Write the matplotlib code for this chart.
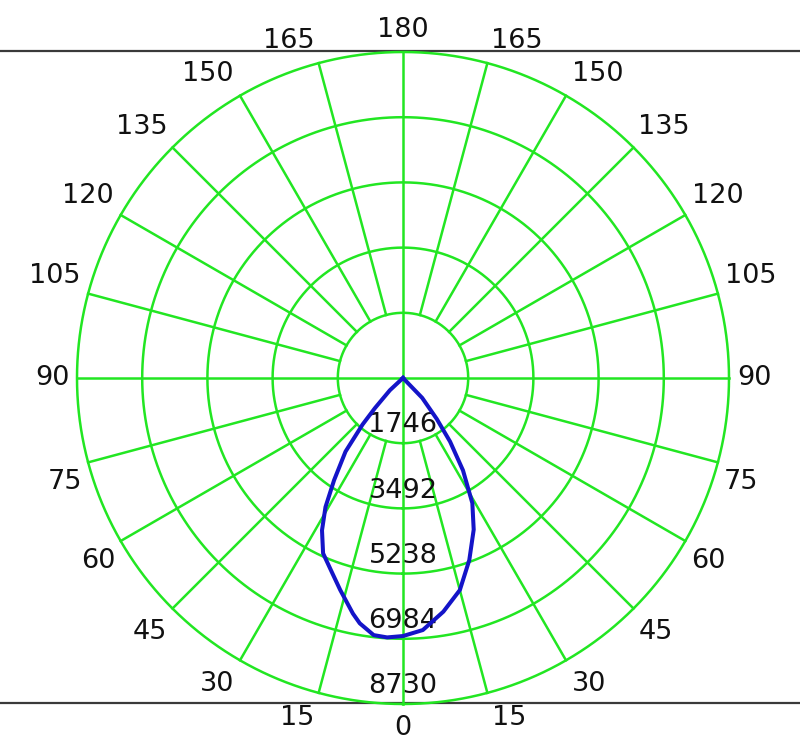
import numpy as np
import matplotlib
matplotlib.use("Agg")
import matplotlib.pyplot as plt
from matplotlib.lines import Line2D

plt.rcParams['font.family'] = ['DejaVu Sans']

# ---- data ----
ring_values = [1746, 3492, 5238, 6984, 8730]
angle_ticks = [0, 15, 30, 45, 60, 75, 90, 105, 120, 135, 150, 165, 180]
# luminous intensity curve (angle in degrees from nadir, + to the right)
curve_angles = [-50, -47, -43, -41, -38, -34, -31, -28, -24.5, -20, -16.5, -12,
                -10, -6.5, -3.5, 0, 4.5, 9.8, 15, 20, 25, 29, 33, 36.5, 39.5, 44, 50]
curve_values = [0, 480, 1100, 1650, 2500, 3300, 4030, 4620, 5160, 5550, 5920, 6450,
                6670, 6930, 6960, 6910, 6770, 6350, 5880, 5190, 4480, 3830, 2950,
                2120, 1420, 740, 0]

# ---- layout: label offsets from the pole in pixels (right side; mirrored on left) ----
label_offset_px = {0: (0, 350), 15: (106, 340), 30: (186, 306), 45: (253, 254),
                   60: (305, 183), 75: (338, 104), 90: (351, 0), 105: (348, -102),
                   120: (315, -182), 135: (261, -251), 150: (195, -304),
                   165: (114, -337), 180: (0, -348)}

GREEN = '#22e622'
BLUE = '#1414c8'
TXT = '#111111'
FS = 19.5
rmax = ring_values[-1]
PX2PT = 72.0 / 100.0

fig = plt.figure(figsize=(8, 7.48), dpi=100)
fig.patch.set_facecolor('white')
ax = fig.add_axes([77 / 800, 44 / 748, 652 / 800, 652 / 748], projection='polar')
ax.set_theta_zero_location('S')
ax.set_theta_direction(1)
ax.set_ylim(0, rmax)
ax.axis('off')

# rings
th = np.linspace(0, 2 * np.pi, 721)
for r in ring_values:
    ax.plot(th, np.full_like(th, r), color=GREEN, lw=1.8, zorder=1, clip_on=False)

# spokes
for a in range(0, 360, 15):
    t = np.deg2rad(a)
    r0 = 0 if a % 90 == 0 else ring_values[0]
    ax.plot([t, t], [r0, rmax], color=GREEN, lw=1.8, zorder=1, clip_on=False)

# ring labels
for r in ring_values:
    ax.text(0, r - 475, str(r), ha='center', va='center', fontsize=FS,
            color=TXT, zorder=3)

# angle labels
def place_label(a, sign):
    dx, dy = label_offset_px[a]
    ax.annotate(str(a), xy=(0, 0), xytext=(sign * dx * PX2PT, -dy * PX2PT),
                textcoords='offset points', ha='center', va='center',
                fontsize=FS, color=TXT, annotation_clip=False)

for a in angle_ticks:
    place_label(a, 1)
    if 0 < a < 180:
        place_label(a, -1)

# curve
ax.plot(np.deg2rad(curve_angles), curve_values, color=BLUE, lw=2.9, zorder=4,
        solid_joinstyle='round')

# horizontal frame lines
for yp in [51, 703]:
    y = (748 - yp) / 748
    fig.add_artist(Line2D([0, 1], [y, y], transform=fig.transFigure,
                          color='#3a3a3a', lw=1.6, zorder=0))

fig.savefig('out.png', dpi=100, facecolor='white')
